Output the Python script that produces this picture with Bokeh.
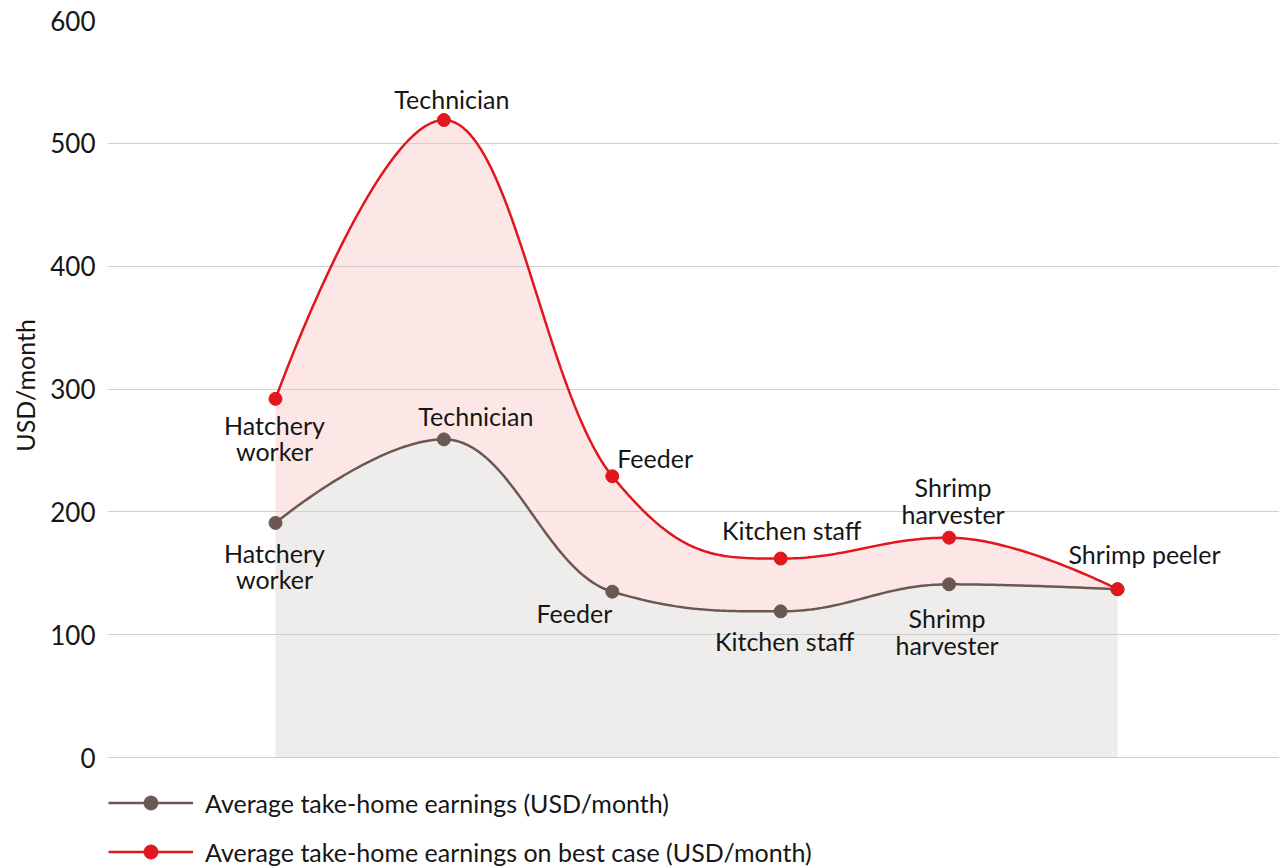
import numpy as np
from bokeh.plotting import figure
from bokeh.models import Range1d, FixedTicker, Legend, LegendItem, ColumnDataSource, Title
from bokeh.embed import file_html
from bokeh.resources import INLINE
from bokeh.core.properties import value

jobs = ["Hatchery worker", "Technician", "Feeder", "Kitchen staff", "Shrimp harvester", "Shrimp peeler"]
avg_earn = [191, 259, 135, 119, 141, 137]
best_earn = [292, 519, 229, 162, 179, 137]
y_ticks = [0, 100, 200, 300, 400, 500, 600]
best_labels = ["Hatchery\nworker", "Technician", "Feeder", "Kitchen staff", "Shrimp\nharvester", "Shrimp peeler"]
avg_labels = ["Hatchery\nworker", "Technician", "Feeder", "Kitchen staff", "Shrimp\nharvester"]

RED = "#e2161d"
BROWN = "#6b5852"
TXT = "#161616"
FONT = "Lato"

W, H = 1279, 866
LEFT, TOP = 107, 20
x_lo, x_hi = -0.9976, 5.962
y_lo, y_hi = -88.7, 600
SY = (H - TOP) / (y_hi - y_lo)


def spline_segments(xs, ys, s=1.5):
    """Cubic Bezier spline through the points (smoothing 1.5, no false extremes)."""
    n = len(xs); L = [None]*n; R = [None]*n
    d = s + 1
    for i in range(1, n-1):
        lx = (s*xs[i] + xs[i-1])/d; ly = (s*ys[i] + ys[i-1])/d
        rx = (s*xs[i] + xs[i+1])/d; ry = (s*ys[i] + ys[i+1])/d
        corr = ((ry-ly)*(rx-xs[i]))/(rx-lx) + ys[i] - ry
        ly += corr; ry += corr
        if ly > ys[i-1] and ly > ys[i]:
            ly = max(ys[i-1], ys[i]); ry = 2*ys[i]-ly
        elif ly < ys[i-1] and ly < ys[i]:
            ly = min(ys[i-1], ys[i]); ry = 2*ys[i]-ly
        if ry > ys[i+1] and ry > ys[i]:
            ry = max(ys[i+1], ys[i]); ly = 2*ys[i]-ry
        elif ry < ys[i+1] and ry < ys[i]:
            ry = min(ys[i+1], ys[i]); ly = 2*ys[i]-ry
        L[i] = (lx, ly); R[i] = (rx, ry)
    segs = []
    for i in range(n-1):
        c1 = R[i] if R[i] else (xs[i], ys[i])
        c2 = L[i+1] if L[i+1] else (xs[i+1], ys[i+1])
        segs.append(((xs[i], ys[i]), c1, c2, (xs[i+1], ys[i+1])))
    return segs


def sample(segs, k=50):
    xs, ys = [], []
    t = np.linspace(0, 1, k)
    for j, (p0, c1, c2, p3) in enumerate(segs):
        tt = t if j == 0 else t[1:]
        bx = (1-tt)**3*p0[0] + 3*(1-tt)**2*tt*c1[0] + 3*(1-tt)*tt**2*c2[0] + tt**3*p3[0]
        by = (1-tt)**3*p0[1] + 3*(1-tt)**2*tt*c1[1] + 3*(1-tt)*tt**2*c2[1] + tt**3*p3[1]
        xs.extend(bx); ys.extend(by)
    return np.array(xs), np.array(ys)


xi = list(range(len(jobs)))

p = figure(width=W, height=H, x_range=Range1d(x_lo, x_hi), y_range=Range1d(y_lo, y_hi),
           output_backend="svg", toolbar_location=None, x_axis_location=None,
           min_border_left=LEFT, min_border_top=TOP, min_border_bottom=0, min_border_right=0,
           outline_line_color=None)
p.xgrid.visible = False
p.ygrid.ticker = FixedTicker(ticks=y_ticks)
p.ygrid.grid_line_color = "#d0d0d0"
p.ygrid.grid_line_width = 1
p.ygrid.level = "underlay"

ax = p.yaxis[0]
ax.ticker = FixedTicker(ticks=y_ticks)
ax.axis_line_color = None
ax.major_tick_line_color = None
ax.minor_tick_line_color = None
ax.major_label_text_font = FONT
ax.major_label_text_font_size = "26px"
ax.major_label_text_color = TXT
ax.major_label_standoff = 6

# y-axis title; lower end placed so that the text is centred on the 0..600 range
p.add_layout(Title(text="USD/month", align="left", offset=(240 - y_lo) * SY + 11, standoff=15,
                   text_font=FONT, text_font_size="25px", text_font_style="normal",
                   text_color=TXT), "left")

rx, ry = sample(spline_segments(xi, best_earn))
bx, by = sample(spline_segments(xi, avg_earn))

p.varea(x=rx, y1=0, y2=ry, fill_color="#fce6e6", level="image")
p.varea(x=bx, y1=0, y2=by, fill_color="#efedeb", level="image")

bl = p.line(bx, by, line_color=BROWN, line_width=2.5)
rl = p.line(rx, ry, line_color=RED, line_width=2.5)
bm = p.scatter(xi, avg_earn, size=13, fill_color=BROWN, line_color=BROWN)
rm = p.scatter(xi, best_earn, size=13, fill_color=RED, line_color=RED)

legend = Legend(items=[LegendItem(label="Average take-home earnings (USD/month)", renderers=[bl, bm]),
                       LegendItem(label="Average take-home earnings on best case (USD/month)", renderers=[rl, rm])],
                location=(1, -3), orientation="vertical", glyph_width=85, glyph_height=35, spacing=14,
                padding=0, margin=0, label_standoff=12, border_line_color=None, background_fill_alpha=0,
                label_text_font=FONT, label_text_font_size="25px", label_text_color=TXT)
p.add_layout(legend)

best_dx = [-1, 8, 5, 11, 4, 27]
best_dy = [39, -21, -18, -29, -37, -35]
best_align = ["center", "center", "left", "center", "center", "center"]
avg_dx = [-1, 32, 0, 4, -2]
avg_dy = [43, -23, 21, 30, 47]
avg_align = ["center", "center", "right", "center", "center"]

src_b = ColumnDataSource(dict(x=xi, y=best_earn, t=best_labels, dx=best_dx, dy=best_dy, al=best_align))
src_a = ColumnDataSource(dict(x=xi[:5], y=avg_earn[:5], t=avg_labels, dx=avg_dx, dy=avg_dy, al=avg_align))
for src in (src_b, src_a):
    p.text(x="x", y="y", text="t", x_offset="dx", y_offset="dy", text_align="al", text_baseline="middle",
           text_font=value(FONT), text_font_size="25px", text_color=TXT, text_line_height=0.88, source=src)

open("out.html", "w").write(file_html(p, INLINE))
